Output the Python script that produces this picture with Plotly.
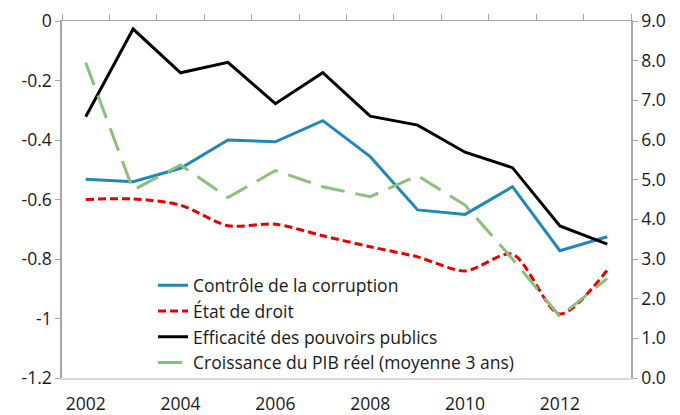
import plotly.graph_objects as go

years = list(range(2002, 2014))

controle_corruption = [-0.532, -0.540, -0.495, -0.400, -0.406, -0.335,
                       -0.456, -0.635, -0.650, -0.557, -0.772, -0.725]
etat_de_droit = [-0.600, -0.598, -0.619, -0.688, -0.683, -0.722,
                 -0.759, -0.793, -0.840, -0.784, -0.985, -0.837]
efficacite_pouvoirs = [-0.322, -0.027, -0.174, -0.139, -0.278, -0.174,
                       -0.320, -0.350, -0.441, -0.493, -0.689, -0.750]
croissance_pib = [7.95, 4.74, 5.37, 4.55, 5.23, 4.82,
                  4.57, 5.10, 4.36, 3.00, 1.55, 2.51]

left_ticks = [0, -0.2, -0.4, -0.6, -0.8, -1, -1.2]
left_tick_text = ["0", "-0.2", "-0.4", "-0.6", "-0.8", "-1", "-1.2"]
right_ticks = [0, 1, 2, 3, 4, 5, 6, 7, 8, 9]
year_labels = [2002, 2004, 2006, 2008, 2010, 2012]

FONT = "Open Sans"
FS = 17.5
AXIS_GRAY = "#a6a6a6"

fig = go.Figure()

fig.add_trace(go.Scatter(
    x=years, y=controle_corruption, mode="lines",
    name="Contrôle de la corruption",
    line=dict(color="#1F88B8", width=3),
))
fig.add_trace(go.Scatter(
    x=years, y=etat_de_droit, mode="lines",
    name="État de droit",
    line=dict(color="#E60000", width=3, dash="8px,4px", shape="spline", smoothing=0.8),
))
fig.add_trace(go.Scatter(
    x=years, y=efficacite_pouvoirs, mode="lines",
    name="Efficacité des pouvoirs publics",
    line=dict(color="#000000", width=3),
))
fig.add_trace(go.Scatter(
    x=years, y=croissance_pib, mode="lines",
    name="Croissance du PIB réel (moyenne 3 ans)",
    line=dict(color="#8CC07A", width=3, dash="24px,11px"),
    yaxis="y2",
))

# top category axis: boundary ticks between years
fig.add_trace(go.Scatter(
    x=[years[0], years[-1]], y=[None, None], xaxis="x2", showlegend=False,
    hoverinfo="skip",
))

fig.update_layout(
    width=680, height=415,
    margin=dict(l=62, r=49, t=21, b=37, autoexpand=False),
    paper_bgcolor="white", plot_bgcolor="white",
    font=dict(family=FONT, size=FS, color="#1a1a1a"),
    xaxis=dict(
        range=[2001.5, 2013.5], tickmode="array", tickvals=year_labels,
        ticks="", showgrid=False, zeroline=False, automargin=False,
        showline=True, linecolor="#d9d9d9", linewidth=1.5,
        tickfont=dict(size=FS), ticklabelstandoff=9,
    ),
    xaxis2=dict(
        overlaying="x", side="top", matches="x", anchor="y",
        tickmode="array", tickvals=[y - 0.5 for y in years] + [2013.5],
        showticklabels=False, ticks="outside", ticklen=6, tickcolor=AXIS_GRAY,
        showgrid=False, zeroline=False, automargin=False,
        showline=True, linecolor=AXIS_GRAY, linewidth=1,
    ),
    yaxis=dict(
        range=[-1.2, 0], tickmode="array", tickvals=left_ticks, ticktext=left_tick_text,
        ticks="outside", ticklen=5, tickcolor=AXIS_GRAY, automargin=False,
        showgrid=False, zeroline=False,
        showline=True, linecolor=AXIS_GRAY, linewidth=1.5,
        tickfont=dict(size=FS),
    ),
    yaxis2=dict(
        range=[0, 9], overlaying="y", side="right", tickmode="array",
        tickvals=right_ticks, tickformat=".1f", automargin=False,
        ticks="outside", ticklen=5, tickcolor=AXIS_GRAY,
        showgrid=False, zeroline=False,
        showline=True, linecolor=AXIS_GRAY, linewidth=1.5,
        tickfont=dict(size=FS),
    ),
    legend=dict(
        x=0.16, y=0.31, xanchor="left", yanchor="top",
        bgcolor="rgba(0,0,0,0)", font=dict(size=FS),
        itemwidth=30, tracegroupgap=0,
    ),
    showlegend=True,
)

fig.write_html("out.html")
